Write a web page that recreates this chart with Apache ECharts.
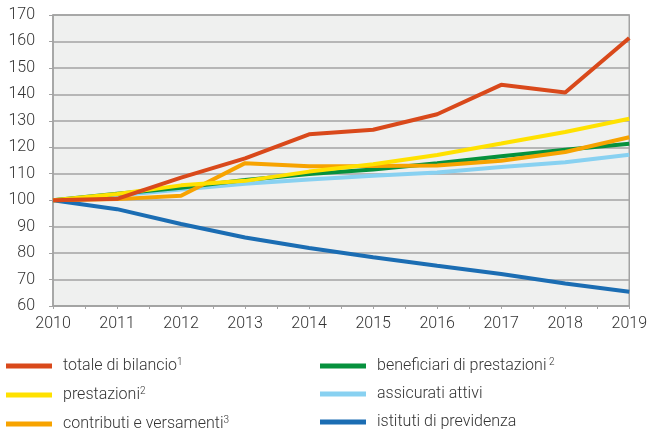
<!DOCTYPE html>
<html>
<head>
<meta charset="utf-8">
<script src="https://cdn.jsdelivr.net/npm/echarts@6/dist/echarts.min.js"></script>
<style>
  html, body { margin: 0; padding: 0; background: #fff; }
  #chart { width: 650px; height: 431px; }
</style>
</head>
<body>
<div id="chart"></div>
<script>
// anni
var years = [2010, 2011, 2012, 2013, 2014, 2015, 2016, 2017, 2018, 2019];

// indici (2010 = 100)
var totaleBilancio = [100, 100.5, 108.5, 115.8, 124.9, 126.6, 132.5, 143.6, 140.7, 161.3];
var prestazioni = [100, 102.3, 105.6, 107.3, 110.8, 113.6, 117.1, 121.4, 125.8, 130.8];
var contributi = [100, 100.4, 101.7, 114.0, 112.8, 112.9, 113.1, 114.9, 118.2, 123.8];
var beneficiari = [100, 102.4, 104.7, 107.6, 109.9, 111.6, 114.0, 116.6, 119.1, 121.3];
var assicurati = [100, 101.8, 104.0, 106.2, 107.8, 109.2, 110.5, 112.5, 114.3, 117.2];
var istituti = [100, 96.6, 91.0, 85.9, 81.9, 78.4, 75.2, 72.1, 68.5, 65.4];

var yTicks = [60, 70, 80, 90, 100, 110, 120, 130, 140, 150, 160, 170];

function pairs(vals) {
  return years.map(function (y, i) { return [y, vals[i]]; });
}

var chart = echarts.init(document.getElementById('chart'), null, { renderer: 'canvas' });

var txt = { fontFamily: 'Roboto', fontWeight: 300, fontSize: 16, color: '#333333' };

var legendText = {
  fontFamily: 'Roboto',
  fontWeight: 300,
  fontSize: 16,
  color: '#333333',
  padding: [0, 0, 0, 6],
  rich: {
    s: { fontFamily: 'Roboto', fontWeight: 300, fontSize: 10, color: '#333333', padding: [0, 0, 8, 0] }
  }
};

function legendFmt(name) {
  var sup = { 'totale di bilancio': '1', 'prestazioni': '2', 'contributi e versamenti': '3', 'beneficiari di prestazioni': ' 2' };
  if (sup[name]) return name + '{s|' + sup[name] + '}';
  return name;
}

function legendBox(left, names) {
  return {
    orient: 'vertical',
    left: left,
    top: 357,
    height: 90,
    padding: 0,
    itemWidth: 46,
    itemHeight: 5,
    itemGap: 12,
    icon: 'rect',
    textStyle: legendText,
    formatter: legendFmt,
    data: names
  };
}

var option = {
  animation: false,
  backgroundColor: '#ffffff',
  grid: {
    left: 53,
    right: 20,
    top: 15,
    bottom: 125,
    show: true,
    backgroundColor: '#eff0ef',
    borderColor: '#a3a3a3',
    borderWidth: 1.5
  },
  legend: [
    legendBox(6, ['totale di bilancio', 'prestazioni', 'contributi e versamenti']),
    legendBox(320, ['beneficiari di prestazioni', 'assicurati attivi', 'istituti di previdenza'])
  ],
  xAxis: {
    type: 'value',
    min: years[0],
    max: years[years.length - 1],
    interval: 1,
    axisLine: { show: true, lineStyle: { color: '#a3a3a3', width: 1.5 } },
    axisTick: { show: true, length: 3, lineStyle: { color: '#a3a3a3' } },
    minorTick: { show: true, splitNumber: 2, length: 3, lineStyle: { color: '#a3a3a3' } },
    splitLine: { show: false },
    axisLabel: Object.assign({ margin: 10, formatter: function (v) { return String(v); } }, txt)
  },
  yAxis: {
    type: 'value',
    min: yTicks[0],
    max: yTicks[yTicks.length - 1],
    interval: 10,
    axisLine: { show: true, lineStyle: { color: '#a3a3a3', width: 1.5 } },
    axisTick: { show: true, length: 4, lineStyle: { color: '#a3a3a3' } },
    splitLine: { show: true, lineStyle: { color: '#a3a3a3', width: 1.5 } },
    axisLabel: Object.assign({ margin: 18 }, txt)
  },
  series: [
    { name: 'istituti di previdenza', type: 'line', data: pairs(istituti), color: '#1b6db3' },
    { name: 'assicurati attivi', type: 'line', data: pairs(assicurati), color: '#88d1f1' },
    { name: 'beneficiari di prestazioni', type: 'line', data: pairs(beneficiari), color: '#06913d' },
    { name: 'contributi e versamenti', type: 'line', data: pairs(contributi), color: '#f7a300' },
    { name: 'prestazioni', type: 'line', data: pairs(prestazioni), color: '#ffe100' },
    { name: 'totale di bilancio', type: 'line', data: pairs(totaleBilancio), color: '#d9491b' }
  ].map(function (s) {
    s.symbol = 'none';
    s.lineStyle = { width: 4, color: s.color };
    return s;
  })
};

chart.setOption(option);
</script>
</body>
</html>
